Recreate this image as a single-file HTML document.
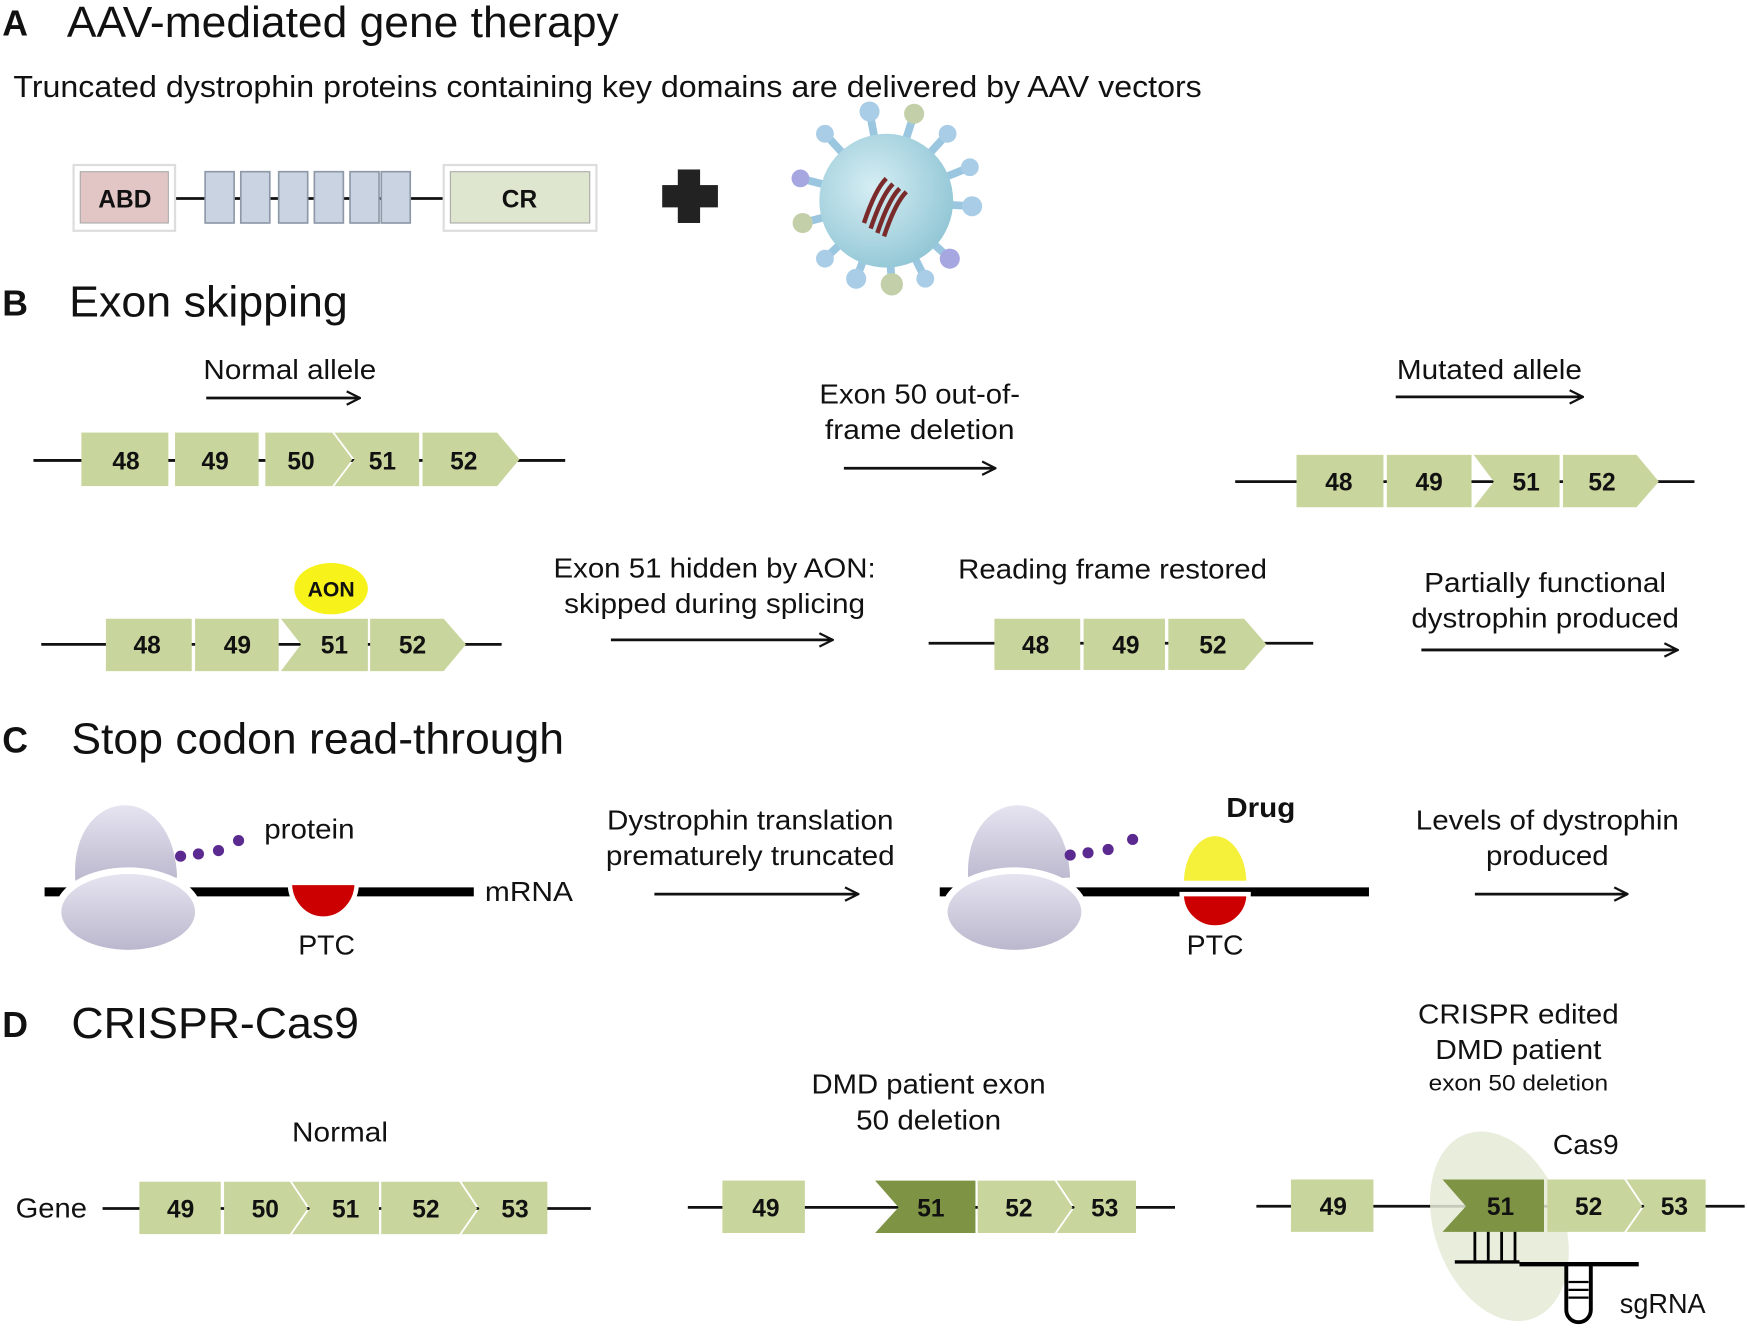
<!DOCTYPE html>
<html><head><meta charset="utf-8"><style>
html,body{margin:0;padding:0;background:#fff;}
svg{display:block;}
text{font-family:"Liberation Sans",sans-serif;fill:#111;}
.ex{fill:#c8d59c;}
.dk{fill:#7e9343;}
.n{font-size:22px;font-weight:bold;text-anchor:middle;}
.l{font-size:25px;text-anchor:middle;}
.h{font-size:39px;}
.b{font-size:32px;font-weight:bold;}
</style></head><body>
<svg width="1748" height="1330" viewBox="0 0 1568 1193" xmlns="http://www.w3.org/2000/svg">
<defs>
<marker id="ar" markerWidth="14" markerHeight="14" refX="13" refY="7" orient="auto" markerUnits="userSpaceOnUse">
<path d="M1,1 L13,7 L1,13" fill="none" stroke="#111" stroke-width="2"/></marker>
<radialGradient id="vg" cx="0.4" cy="0.4" r="0.7"><stop offset="0" stop-color="#d6eef4"/><stop offset="1" stop-color="#8cc3d3"/></radialGradient>
<linearGradient id="rib" x1="0" y1="0" x2="0" y2="1"><stop offset="0" stop-color="#e8e6f2"/><stop offset="1" stop-color="#b9b5cc"/></linearGradient>
</defs>
<g stroke="#111" stroke-width="2.5" fill="none">
<line x1="185" y1="357" x2="323" y2="357" marker-end="url(#ar)"/>
<line x1="757" y1="420" x2="893" y2="420" marker-end="url(#ar)"/>
<line x1="1252" y1="356" x2="1420" y2="356" marker-end="url(#ar)"/>
<line x1="548" y1="574" x2="747" y2="574" marker-end="url(#ar)"/>
<line x1="1275" y1="583" x2="1505" y2="583" marker-end="url(#ar)"/>
<line x1="587" y1="802" x2="770" y2="802" marker-end="url(#ar)"/>
<line x1="1323" y1="802" x2="1460" y2="802" marker-end="url(#ar)"/>
<line x1="30" y1="413" x2="507" y2="413"/>
<line x1="1108" y1="432" x2="1520" y2="432"/>
<line x1="37" y1="578" x2="450" y2="578"/>
<line x1="833" y1="577" x2="1178" y2="577"/>
<line x1="92" y1="1084" x2="530" y2="1084"/>
<line x1="617" y1="1083" x2="1054" y2="1083"/>
<line x1="1127" y1="1082" x2="1565" y2="1082"/>
<line x1="155" y1="178" x2="400" y2="178"/>
</g>

<!-- A -->
<text x="2" y="32" class="b">A</text>
<text x="60" y="33" class="h" textLength="495" lengthAdjust="spacingAndGlyphs">AAV-mediated gene therapy</text>
<text x="12" y="87" style="font-size:27px" textLength="1066" lengthAdjust="spacingAndGlyphs">Truncated dystrophin proteins containing key domains are delivered by AAV vectors</text>
<rect x="66" y="148" width="91" height="59" fill="#fff" stroke="#ddd" stroke-width="2"/>
<rect x="72" y="154" width="79" height="46" fill="#e2c6c6" stroke="#aaa"/>
<text x="112" y="186" class="n" style="font-size:22px">ABD</text>
<g fill="#c9d3e2" stroke="#8e99a8" stroke-width="1.5">
<rect x="184" y="154" width="26" height="46"/><rect x="216" y="154" width="26" height="46"/><rect x="250" y="154" width="26" height="46"/><rect x="282" y="154" width="26" height="46"/><rect x="314" y="154" width="26" height="46"/><rect x="342" y="154" width="26" height="46"/></g>
<rect x="398" y="148" width="137" height="59" fill="#fff" stroke="#ddd" stroke-width="2"/>
<rect x="404" y="154" width="125" height="46" fill="#dfe6cf" stroke="#aaa"/>
<text x="466" y="186" class="n" style="font-size:22px">CR</text>
<rect x="608" y="152" width="20" height="48" fill="#222"/><rect x="594" y="166" width="50" height="20" fill="#222"/>
<g stroke="#9bc6e0" stroke-width="7" stroke-linecap="round">
<line x1="795" y1="180" x2="780" y2="100"/><line x1="795" y1="180" x2="820" y2="102"/><line x1="795" y1="180" x2="850" y2="120"/><line x1="795" y1="180" x2="870" y2="150"/><line x1="795" y1="180" x2="872" y2="185"/><line x1="795" y1="180" x2="852" y2="232"/><line x1="795" y1="180" x2="830" y2="250"/><line x1="795" y1="180" x2="800" y2="255"/><line x1="795" y1="180" x2="768" y2="250"/><line x1="795" y1="180" x2="740" y2="232"/><line x1="795" y1="180" x2="720" y2="200"/><line x1="795" y1="180" x2="718" y2="160"/><line x1="795" y1="180" x2="740" y2="120"/></g>
<g fill="#a9cde6"><circle cx="780" cy="100" r="9"/><circle cx="820" cy="102" r="9" fill="#c3cfa8"/><circle cx="850" cy="120" r="8"/><circle cx="870" cy="150" r="8"/><circle cx="872" cy="185" r="9"/><circle cx="852" cy="232" r="9" fill="#a6a6e0"/><circle cx="830" cy="250" r="8"/><circle cx="800" cy="255" r="10" fill="#c3cfa8"/><circle cx="768" cy="250" r="9"/><circle cx="740" cy="232" r="8"/><circle cx="720" cy="200" r="9" fill="#c3cfa8"/><circle cx="718" cy="160" r="8" fill="#a6a6e0"/><circle cx="740" cy="120" r="8"/></g>
<circle cx="795" cy="180" r="60" fill="url(#vg)"/>
<g stroke="#7a2a2a" stroke-width="4" fill="none"><path d="M775,200 q10,-30 20,-40"/><path d="M781,205 q10,-30 20,-40"/><path d="M787,209 q10,-30 20,-40"/><path d="M793,212 q10,-30 20,-40"/></g>

<!-- B -->
<text x="2" y="283" class="b">B</text>
<text x="62" y="284" class="h" textLength="250" lengthAdjust="spacingAndGlyphs">Exon skipping</text>
<text x="260" y="340" class="l" textLength="155" lengthAdjust="spacingAndGlyphs">Normal allele</text>
<text x="825" y="362" class="l" textLength="180" lengthAdjust="spacingAndGlyphs">Exon 50 out-of-</text>
<text x="825" y="394" class="l" textLength="170" lengthAdjust="spacingAndGlyphs">frame deletion</text>
<text x="1336" y="340" class="l" textLength="166" lengthAdjust="spacingAndGlyphs">Mutated allele</text>
<g class="ex">
<rect x="73" y="388" width="78" height="48"/><rect x="157" y="388" width="75" height="48"/>
<polygon points="238,388 298,388 316,412 298,436 238,436"/>
<polygon points="300,388 376,388 376,436 300,436 318,412"/>
<polygon points="379,388 446,388 466,412 446,436 379,436"/>
<rect x="1163" y="408" width="78" height="47"/><rect x="1244" y="408" width="76" height="47"/>
<polygon points="1322,408 1399,408 1399,455 1322,455 1340,432"/>
<polygon points="1402,408 1468,408 1488,432 1468,455 1402,455"/>
<rect x="95" y="555" width="77" height="47"/><rect x="175" y="555" width="75" height="47"/>
<polygon points="252,555 330,555 330,602 252,602 270,578"/>
<polygon points="332,555 398,555 418,578 398,602 332,602"/>
<rect x="892" y="555" width="77" height="46"/><rect x="972" y="555" width="73" height="46"/>
<polygon points="1048,555 1116,555 1136,578 1116,601 1048,601"/>
</g>
<g class="n">
<text x="113" y="421">48</text><text x="193" y="421">49</text><text x="270" y="421">50</text><text x="343" y="421">51</text><text x="416" y="421">52</text>
<text x="1201" y="440">48</text><text x="1282" y="440">49</text><text x="1369" y="440">51</text><text x="1437" y="440">52</text>
<text x="132" y="586">48</text><text x="213" y="586">49</text><text x="300" y="586">51</text><text x="370" y="586">52</text>
<text x="929" y="586">48</text><text x="1010" y="586">49</text><text x="1088" y="586">52</text>
</g>
<ellipse cx="297" cy="528" rx="33" ry="23" fill="#f7f21a"/>
<text x="297" y="535" class="n" style="font-size:19px">AON</text>
<text x="641" y="518" class="l" textLength="289" lengthAdjust="spacingAndGlyphs">Exon 51 hidden by AON:</text>
<text x="641" y="550" class="l" textLength="270" lengthAdjust="spacingAndGlyphs">skipped during splicing</text>
<text x="998" y="519" class="l" textLength="277" lengthAdjust="spacingAndGlyphs">Reading frame restored</text>
<text x="1386" y="531" class="l" textLength="217" lengthAdjust="spacingAndGlyphs">Partially functional</text>
<text x="1386" y="563" class="l" textLength="240" lengthAdjust="spacingAndGlyphs">dystrophin produced</text>

<!-- C -->
<text x="2" y="675" class="b">C</text>
<text x="64" y="676" class="h" textLength="442" lengthAdjust="spacingAndGlyphs">Stop codon read-through</text>
<line x1="40" y1="800" x2="425" y2="800" stroke="#000" stroke-width="8"/>
<line x1="843" y1="800" x2="1228" y2="800" stroke="#000" stroke-width="8"/>
<g stroke="#fff" stroke-width="6" fill="url(#rib)">
<path d="M65,795 C55,700 160,690 162,790 Z"/>
<ellipse cx="115" cy="818" rx="63" ry="37"/>
<path d="M866,795 C856,700 961,690 963,790 Z"/>
<ellipse cx="910" cy="818" rx="63" ry="37"/>
</g>
<g fill="#5b2a91"><circle cx="162" cy="768" r="5"/><circle cx="178" cy="766" r="5"/><circle cx="196" cy="763" r="5"/><circle cx="214" cy="754" r="5"/>
<circle cx="960" cy="767" r="5"/><circle cx="976" cy="765" r="5"/><circle cx="994" cy="762" r="5"/><circle cx="1016" cy="753" r="5"/></g>
<path d="M260,792 L320,792 A30,32 0 0 1 260,792 Z" fill="#cc0000" stroke="#fff" stroke-width="4"/>
<path d="M1060,792 A30,44 0 0 1 1120,792 Z" fill="#f5f03a" stroke="#fff" stroke-width="4"/>
<path d="M1060,802 L1120,802 A30,30 0 0 1 1060,802 Z" fill="#cc0000" stroke="#fff" stroke-width="4"/>
<text x="237" y="752" style="font-size:25px" textLength="81" lengthAdjust="spacingAndGlyphs">protein</text>
<text x="435" y="808" style="font-size:25px" textLength="79" lengthAdjust="spacingAndGlyphs">mRNA</text>
<text x="293" y="856" class="l" textLength="51" lengthAdjust="spacingAndGlyphs">PTC</text>
<text x="1090" y="856" class="l" textLength="51" lengthAdjust="spacingAndGlyphs">PTC</text>
<text x="1131" y="733" class="l" style="font-weight:bold" textLength="62" lengthAdjust="spacingAndGlyphs">Drug</text>
<text x="673" y="744" class="l" textLength="257" lengthAdjust="spacingAndGlyphs">Dystrophin translation</text>
<text x="673" y="776" class="l" textLength="259" lengthAdjust="spacingAndGlyphs">prematurely truncated</text>
<text x="1388" y="744" class="l" textLength="236" lengthAdjust="spacingAndGlyphs">Levels of dystrophin</text>
<text x="1388" y="776" class="l" textLength="110" lengthAdjust="spacingAndGlyphs">produced</text>

<!-- D -->
<text x="2" y="930" class="b">D</text>
<text x="64" y="931" class="h" textLength="258" lengthAdjust="spacingAndGlyphs">CRISPR-Cas9</text>
<text x="305" y="1024" class="l" textLength="86" lengthAdjust="spacingAndGlyphs">Normal</text>
<text x="14" y="1092" style="font-size:25px" textLength="64" lengthAdjust="spacingAndGlyphs">Gene</text>
<text x="833" y="981" class="l" textLength="210" lengthAdjust="spacingAndGlyphs">DMD patient exon</text>
<text x="833" y="1013" class="l" textLength="130" lengthAdjust="spacingAndGlyphs">50 deletion</text>
<text x="1362" y="918" class="l" textLength="180" lengthAdjust="spacingAndGlyphs">CRISPR edited</text>
<text x="1362" y="950" class="l" textLength="149" lengthAdjust="spacingAndGlyphs">DMD patient</text>
<text x="1362" y="978" class="l" style="font-size:20px" textLength="161" lengthAdjust="spacingAndGlyphs">exon 50 deletion</text>
<ellipse cx="1345" cy="1100" rx="58" ry="88" transform="rotate(-20 1345 1100)" fill="#e4ead6" opacity="0.85"/>
<text x="1393" y="1035" style="font-size:25px" textLength="59" lengthAdjust="spacingAndGlyphs">Cas9</text>
<g class="ex">
<rect x="125" y="1060" width="73" height="47"/>
<polygon points="201,1060 260,1060 276,1084 260,1107 201,1107"/>
<polygon points="262,1060 340,1060 340,1107 262,1107 278,1084"/>
<polygon points="342,1060 412,1060 428,1084 412,1107 342,1107"/>
<polygon points="414,1060 491,1060 491,1107 414,1107 430,1084"/>
<rect x="648" y="1059" width="74" height="47"/>
<polygon points="877,1059 946,1059 962,1083 946,1106 877,1106"/>
<polygon points="948,1059 1019,1059 1019,1106 948,1106 964,1083"/>
<rect x="1158" y="1058" width="74" height="47"/>
<polygon points="1388,1058 1457,1058 1473,1082 1457,1105 1388,1105"/>
<polygon points="1459,1058 1530,1058 1530,1105 1459,1105 1475,1082"/>
</g>
<polygon points="785,1059 875,1059 875,1106 785,1106 806,1083" class="dk"/>
<polygon points="1294,1058 1385,1058 1385,1105 1294,1105 1315,1082" class="dk"/>
<g class="n">
<text x="162" y="1092">49</text><text x="238" y="1092">50</text><text x="310" y="1092">51</text><text x="382" y="1092">52</text><text x="462" y="1092">53</text>
<text x="687" y="1091">49</text><text x="835" y="1091">51</text><text x="914" y="1091">52</text><text x="991" y="1091">53</text>
<text x="1196" y="1090">49</text><text x="1346" y="1090">51</text><text x="1425" y="1090">52</text><text x="1502" y="1090">53</text>
</g>
<g stroke="#000" fill="none">
<g stroke-width="2.5"><line x1="1323" y1="1105" x2="1323" y2="1132"/><line x1="1335" y1="1105" x2="1335" y2="1132"/><line x1="1347" y1="1105" x2="1347" y2="1132"/><line x1="1359" y1="1105" x2="1359" y2="1132"/></g>
<line x1="1305" y1="1132" x2="1363" y2="1132" stroke-width="3"/>
<line x1="1363" y1="1134" x2="1470" y2="1134" stroke-width="4"/>
<path d="M1405,1134 V1175 A11,11 0 0 0 1427,1175 V1134" stroke-width="3.5"/>
<g stroke-width="2"><line x1="1407" y1="1150" x2="1425" y2="1150"/><line x1="1407" y1="1157" x2="1425" y2="1157"/><line x1="1407" y1="1164" x2="1425" y2="1164"/></g>
</g>
<text x="1453" y="1178" style="font-size:25px" textLength="77" lengthAdjust="spacingAndGlyphs">sgRNA</text>
</svg>
</body></html>
